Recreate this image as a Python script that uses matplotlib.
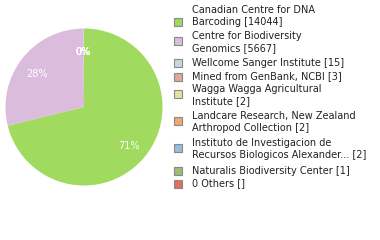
import matplotlib.pyplot as plt
from matplotlib.patches import Rectangle

# data
labels = ['Canadian Centre for DNA\nBarcoding [14044]',
          'Centre for Biodiversity\nGenomics [5667]',
          'Wellcome Sanger Institute [15]',
          'Mined from GenBank, NCBI [3]',
          'Wagga Wagga Agricultural\nInstitute [2]',
          'Landcare Research, New Zealand\nArthropod Collection [2]',
          'Instituto de Investigacion de\nRecursos Biologicos Alexander... [2]',
          'Naturalis Biodiversity Center [1]',
          '0 Others []']
counts = [14044, 5667, 15, 3, 2, 2, 2, 1, 0]
colors = ['#a0da5e', '#dcbcdc', '#c8d6e0', '#e0a89c', '#dce4a0',
          '#f0a870', '#98bce0', '#98c070', '#e07058']
# legend square centres and text block centres (pixels from top)
square_y = [22, 41, 63, 77, 94, 121, 148, 171, 184]
text_y = [16, 42, 62.5, 76, 95, 122, 148.5, 171, 183.5]

W, H = 380, 240
fig = plt.figure(figsize=(W / 100, H / 100), dpi=100)

# pie
cx, cy, r = 84, 107, 78.5
ax = fig.add_axes([(cx - r) / W, (H - cy - r) / H, 2 * r / W, 2 * r / H])
vals = [c for c in counts if c > 0]
wedges, _, autotexts = ax.pie(vals, colors=colors[:len(vals)], startangle=90,
                              counterclock=False, radius=1,
                              autopct=lambda p: f'{int(p)}%', pctdistance=0.74,
                              textprops=dict(color='white', fontsize=7))
for t in autotexts:
    x, y = t.get_position()
    t.set_position((x - 0.01, y - 0.04))
ax.set_xlim(-1, 1)
ax.set_ylim(-1, 1)
ax.set_aspect('equal')
ax.axis('off')

# legend drawn by hand
for lab, col, sy, ty in zip(labels, colors, square_y, text_y):
    fig.patches.append(Rectangle((173.5 / W, (H - sy - 4) / H), 8 / W, 8 / H,
                                 transform=fig.transFigure, facecolor=col,
                                 edgecolor='#888888', linewidth=0.8))
    fig.text(192 / W, (H - ty) / H, lab, fontsize=7, color='#222222',
             va='center', ha='left', linespacing=1.25)

fig.savefig('out.png', dpi=100)
